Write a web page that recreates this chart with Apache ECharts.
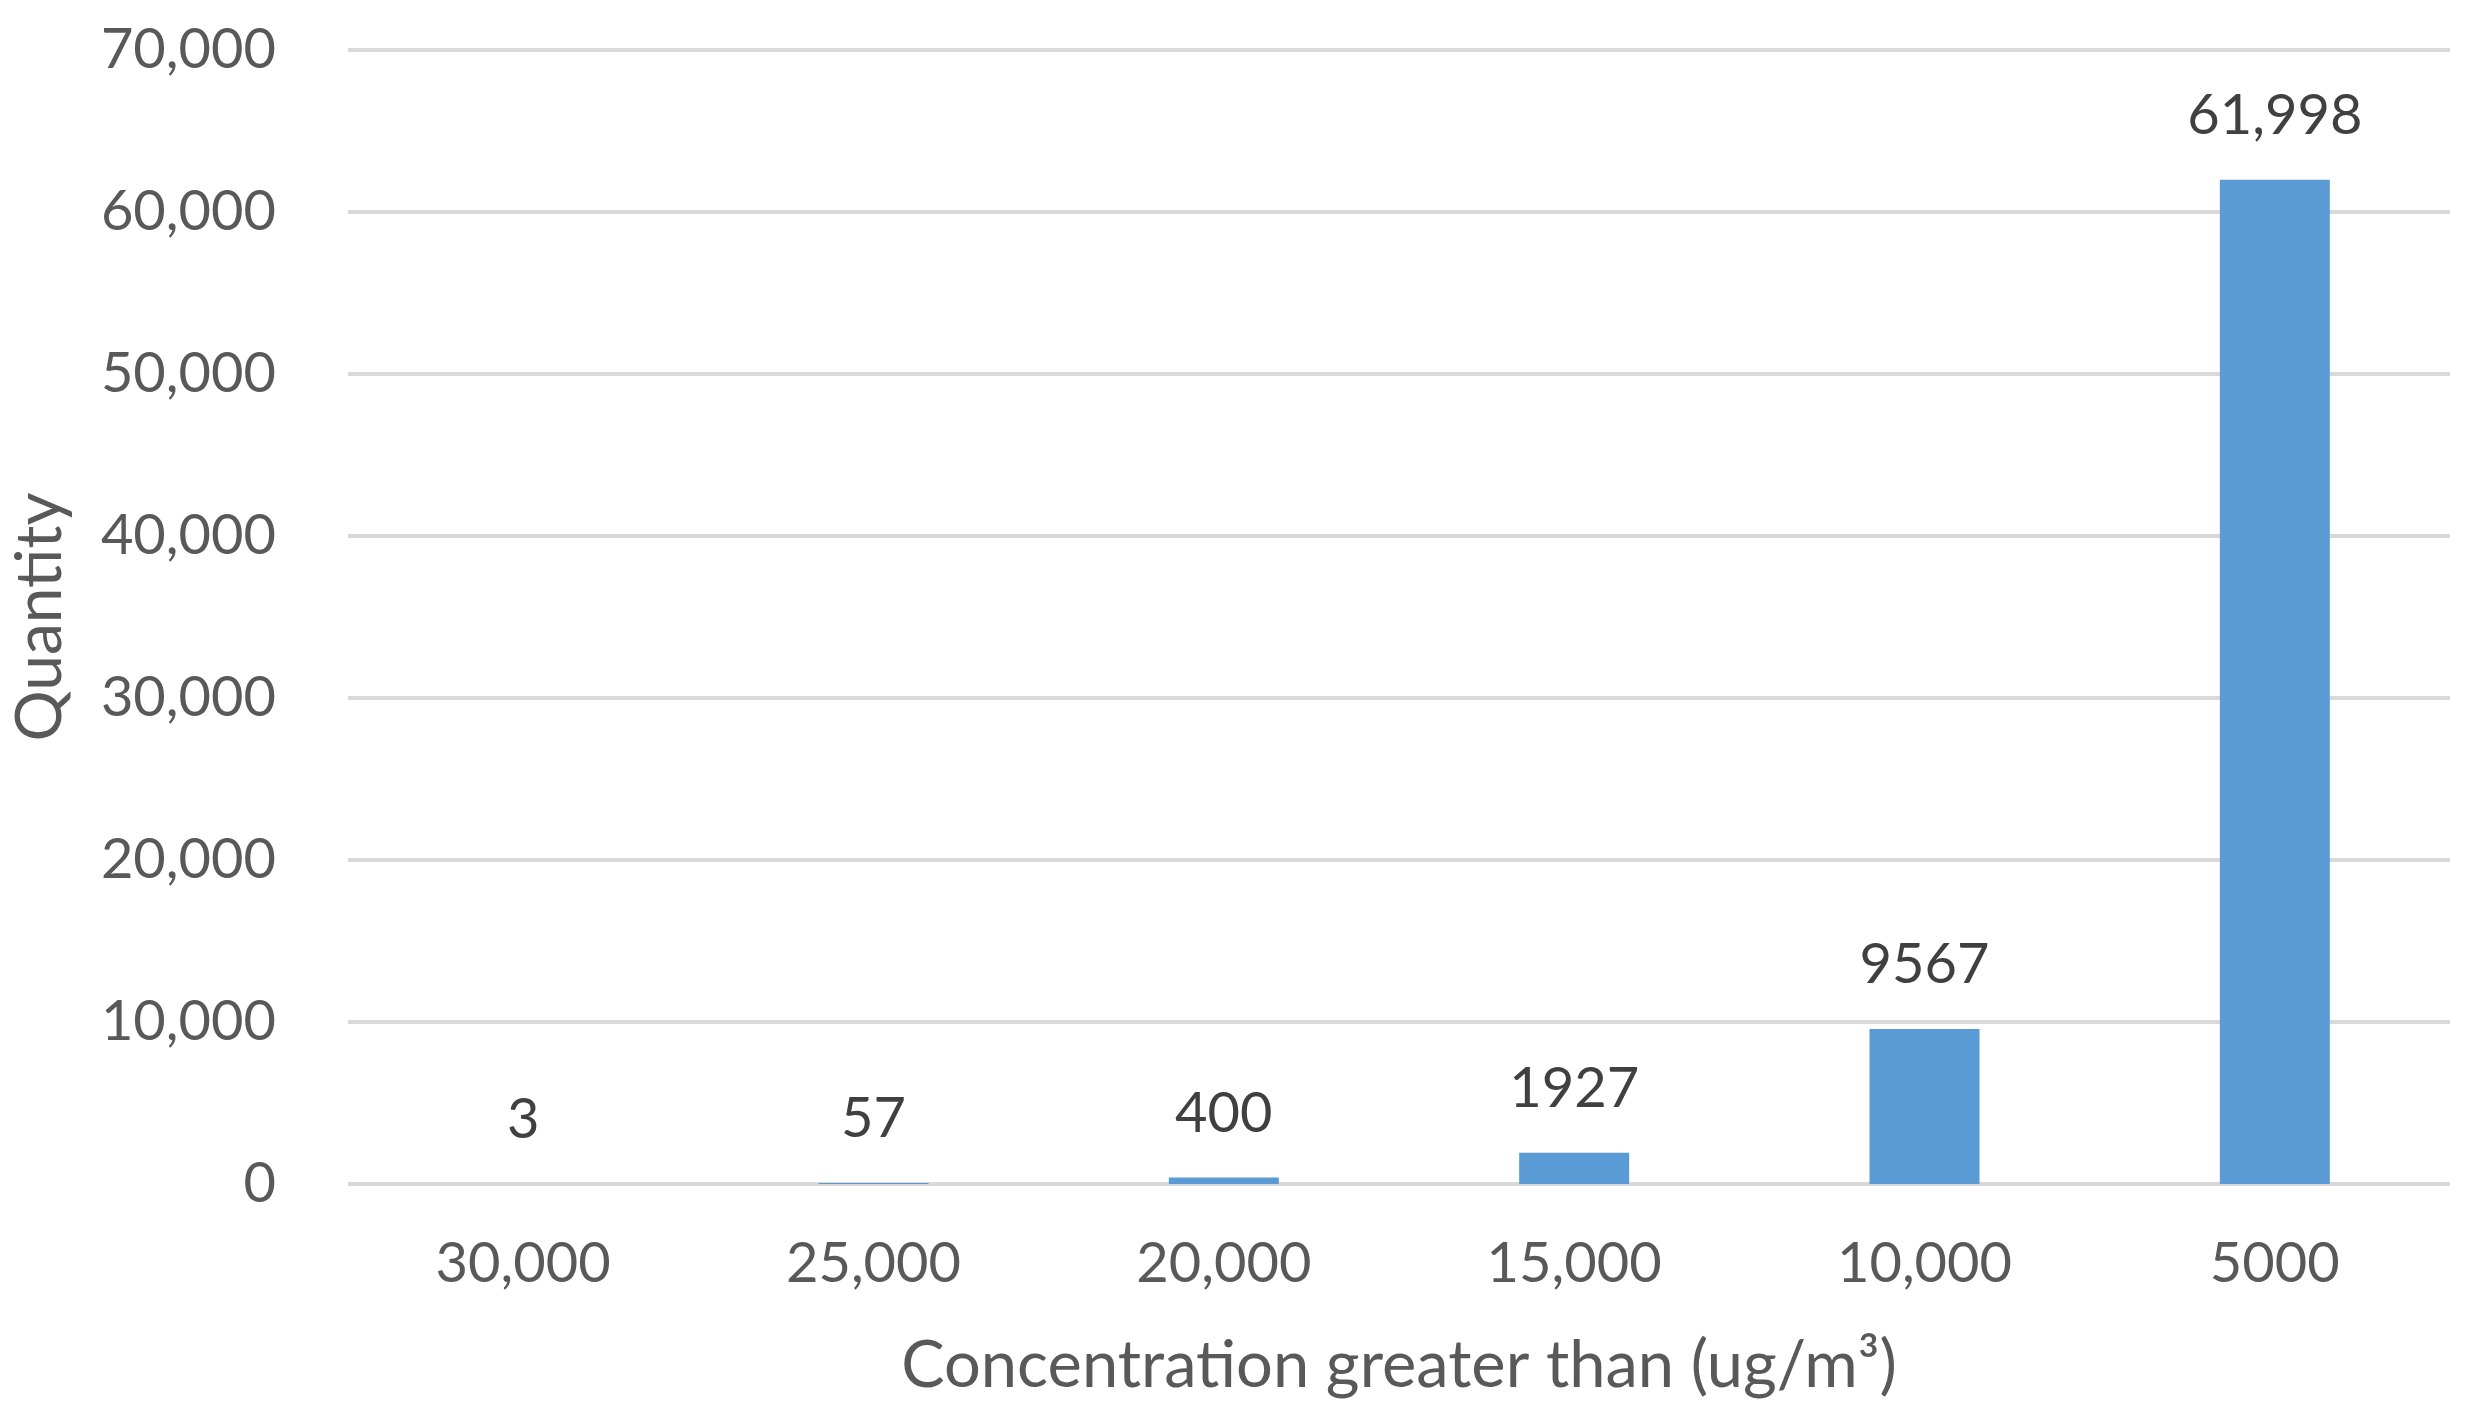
<!DOCTYPE html>
<html>
<head>
<meta charset="utf-8">
<script src="https://cdn.jsdelivr.net/npm/echarts@6/dist/echarts.min.js"></script>
<style>html,body{margin:0;padding:0;background:#fff;overflow:hidden;}#c{width:2473px;height:1417px;}</style>
</head>
<body>
<div id="c"></div>
<script>
const categories = ['30,000', '25,000', '20,000', '15,000', '10,000', '5000'];
const quantities = [3, 57, 400, 1927, 9567, 61998];
const yTicks = { min: 0, max: 70000, interval: 10000 };
const xTitle = 'Concentration greater than (ug/m\u00B3)';
const yTitle = 'Quantity';

const FONT = 'Lato';
const chart = echarts.init(document.getElementById('c'));
chart.setOption({
  animation: false,
  grid: { left: 347, right: 23, top: 50, bottom: 233, containLabel: false },
  xAxis: {
    type: 'category',
    data: categories,
    name: xTitle,
    nameLocation: 'middle',
    nameGap: 150,
    nameTextStyle: { fontFamily: FONT, fontSize: 65, color: '#595959' },
    axisLine: { show: false },
    axisTick: { show: false },
    axisLabel: { fontFamily: FONT, fontSize: 56, color: '#595959', margin: 52 }
  },
  yAxis: {
    type: 'value',
    min: yTicks.min, max: yTicks.max, interval: yTicks.interval,
    name: yTitle,
    nameLocation: 'middle',
    nameGap: 276,
    nameTextStyle: { fontFamily: FONT, fontSize: 64, color: '#595959' },
    axisLine: { show: false },
    axisTick: { show: false },
    splitLine: { lineStyle: { color: '#D9D9D9', width: 4 } },
    axisLabel: {
      fontFamily: FONT, fontSize: 56, color: '#595959', margin: 72,
      formatter: v => v.toLocaleString('en-US')
    }
  },
  series: [{
    type: 'bar',
    data: quantities,
    barWidth: 110,
    itemStyle: { color: '#5B9BD5' },
    label: {
      show: true, position: 'top', distance: 36,
      fontFamily: FONT, fontSize: 56, color: '#404040',
      formatter: p => p.value >= 10000 ? p.value.toLocaleString('en-US') : String(p.value)
    }
  }]
});
</script>
</body>
</html>
